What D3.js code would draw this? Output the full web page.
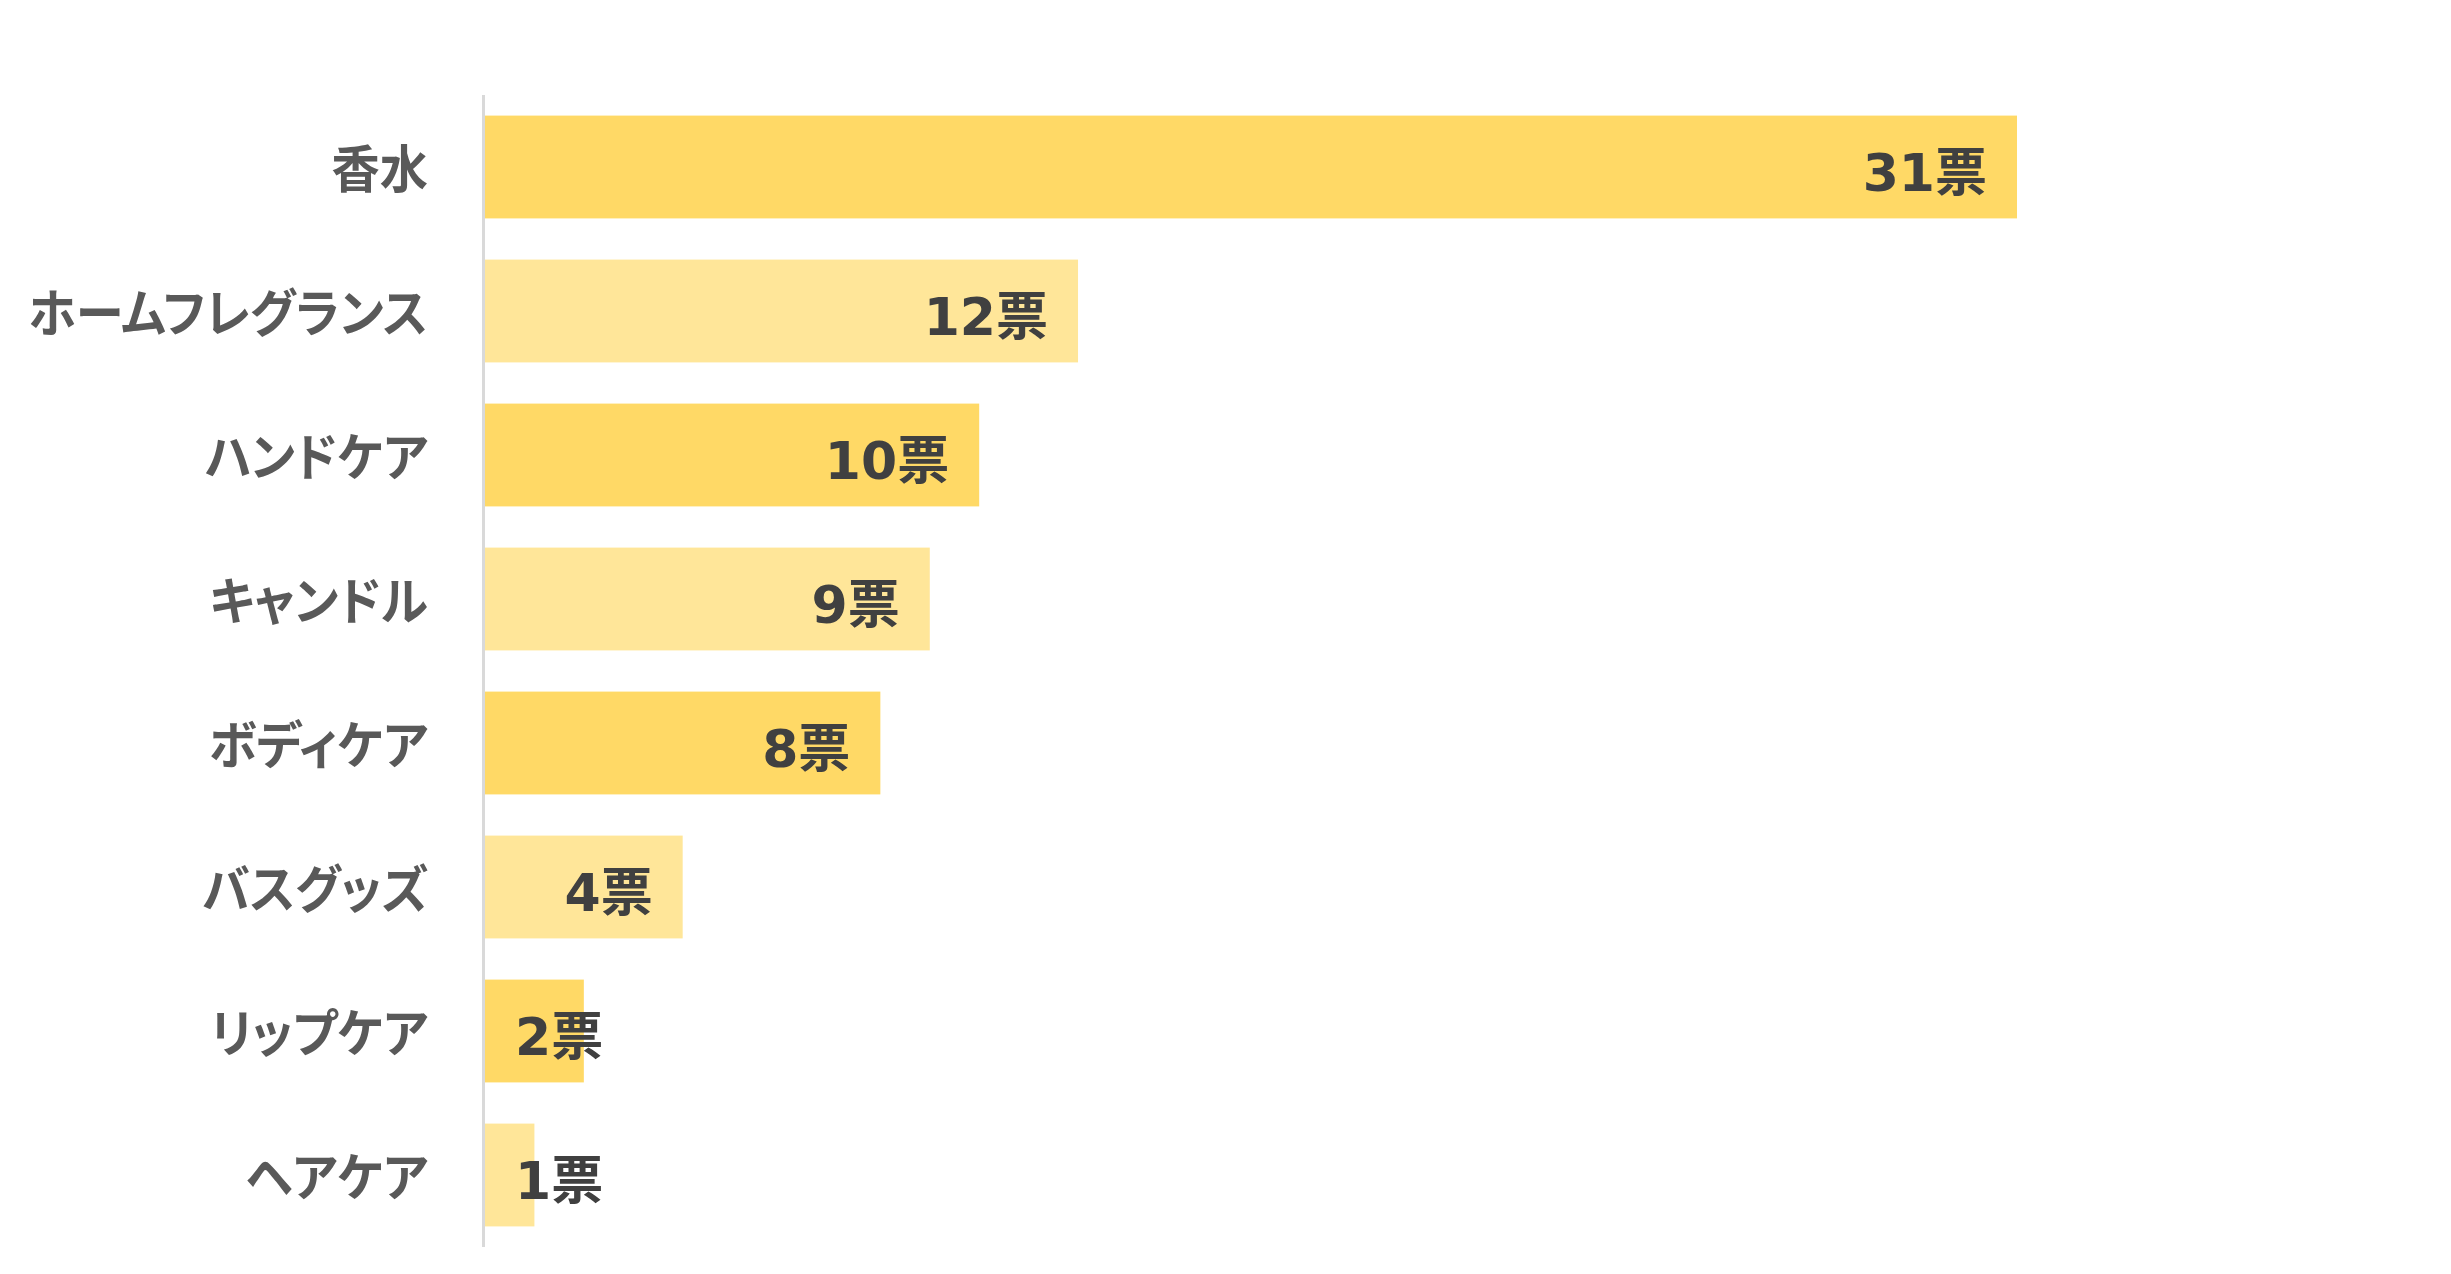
<!DOCTYPE html>
<html lang="ja">
<head>
<meta charset="UTF-8">
<title>投票結果</title>
<script src="https://cdn.jsdelivr.net/npm/d3@7"></script>
<style>
  html, body { margin: 0; padding: 0; background: #fff; }
  svg { display: block; }
</style>
</head>
<body>
<div id="chart"></div>
<script>
// data
const categories = ["香水", "ホームフレグランス", "ハンドケア", "キャンドル", "ボディケア", "バスグッズ", "リップケア", "ヘアケア"];
const votes = [31, 12, 10, 9, 8, 4, 2, 1];
const unit = "票";
const barColors = ["#FFD966", "#FFE699"];

const W = 2451, H = 1274;
const axisX = 485, plotTop = 95, plotBottom = 1247, plotRight = 2017;

const svg = d3.select("#chart").append("svg")
  .attr("width", W).attr("height", H);

const x = d3.scaleLinear()
  .domain([0, d3.max(votes)])
  .range([axisX, plotRight]);

const y = d3.scaleBand()
  .domain(categories)
  .range([plotTop, plotBottom])
  .paddingInner(0.286)
  .paddingOuter(0.143);

const rows = categories.map((c, i) => ({ cat: c, v: votes[i], i: i }));

// bars
svg.selectAll("rect.bar")
  .data(rows)
  .join("rect")
    .attr("class", "bar")
    .attr("x", x(0))
    .attr("y", d => y(d.cat))
    .attr("width", d => x(d.v) - x(0))
    .attr("height", y.bandwidth())
    .attr("fill", d => barColors[d.i % 2]);

// vertical axis line
svg.append("line")
  .attr("x1", axisX - 1.5).attr("x2", axisX - 1.5)
  .attr("y1", plotTop).attr("y2", plotBottom)
  .attr("stroke", "#D9D9D9")
  .attr("stroke-width", 3);

// category labels (slightly condensed like the original font)
svg.selectAll("text.cat")
  .data(rows)
  .join("text")
    .attr("class", "cat")
    .attr("transform", d => `translate(${axisX - 57},${y(d.cat) + y.bandwidth() / 2 - 2}) scale(0.945,1)`)
    .attr("text-anchor", "end")
    .attr("dominant-baseline", "central")
    .style("font-family", "'Noto Sans CJK JP', sans-serif")
    .style("font-weight", 700)
    .style("font-size", "51px")
    .style("font-feature-settings", "'palt'")
    .attr("fill", "#595959")
    .text(d => d.cat);

// value labels
const vals = svg.selectAll("text.val")
  .data(rows)
  .join("text")
    .attr("class", "val")
    .attr("y", d => y(d.cat) + y.bandwidth() / 2 + 6)
    .attr("text-anchor", "end")
    .attr("dominant-baseline", "central")
    .style("font-family", "'DejaVu Sans', 'Noto Sans CJK JP', sans-serif")
    .style("font-weight", 700)
    .style("font-size", "52px")
    .attr("fill", "#404040")
    .text(d => d.v + unit);

vals.attr("x", function(d) {
  const w = this.getComputedTextLength();
  return Math.max(x(d.v) - 30, x(0) + 30 + w);
});
</script>
</body>
</html>
